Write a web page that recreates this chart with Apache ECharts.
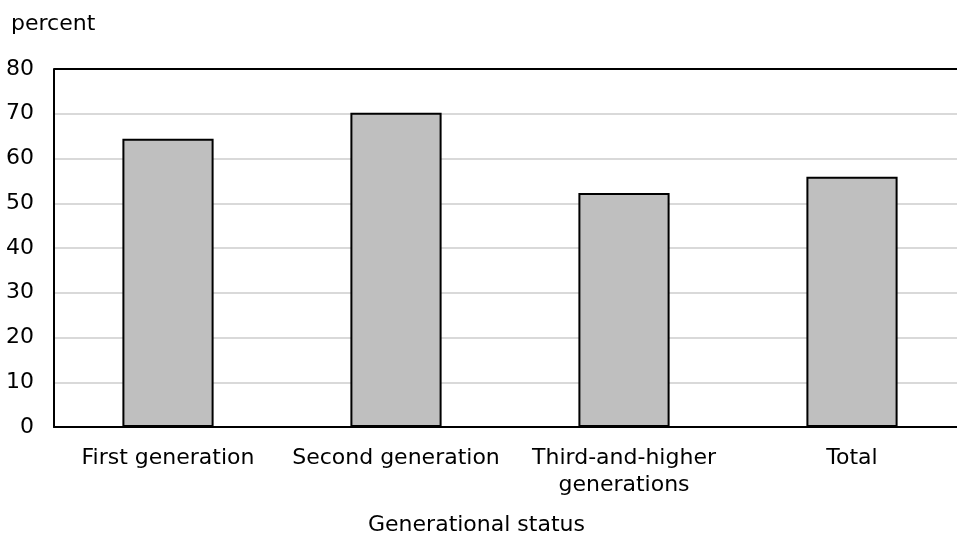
<!DOCTYPE html>
<html>
<head>
<meta charset="utf-8">
<script src="https://cdn.jsdelivr.net/npm/echarts@6/dist/echarts.min.js"></script>
<style>
  html, body { margin: 0; padding: 0; background: #fff; }
  #chart { width: 957px; height: 540px; }
</style>
</head>
<body>
<div id="chart"></div>
<script>
// categories and values
const categories = ["First generation", "Second generation", "Third-and-higher\ngenerations", "Total"];
const shares = [64.4, 70.2, 52.3, 55.9];
const yTicks = [0, 10, 20, 30, 40, 50, 60, 70, 80];

const font = "DejaVu Sans";
let myChart = echarts.init(document.getElementById("chart"));

myChart.setOption({
  animation: false,
  textStyle: { fontFamily: font },
  grid: {
    left: 54,
    width: 912,
    top: 69,
    bottom: 113,
    outerBoundsMode: "none",
    containLabel: false,
  },
  graphic: [
    {
      type: "text",
      left: 11,
      top: 13,
      style: { text: "percent", font: "22px " + font, fill: "#000" },
    },
  ],
  xAxis: {
    type: "category",
    data: categories,
    name: "Generational status",
    nameLocation: "middle",
    nameGap: 87,
    nameTextStyle: { color: "#000", fontSize: 22, fontFamily: font, padding: [0, 67, 0, 0] },
    axisLine: { lineStyle: { color: "#000", width: 2 } },
    axisTick: { show: false },
    axisLabel: { color: "#000", fontSize: 22, fontFamily: font, margin: 18, lineHeight: 27, interval: 0 },
  },
  yAxis: {
    type: "value",
    min: yTicks[0],
    max: yTicks[yTicks.length - 1],
    interval: 10,
    axisLine: { show: true, lineStyle: { color: "#000", width: 2 } },
    axisTick: { show: false },
    axisLabel: { color: "#000", fontSize: 22, fontFamily: font, margin: 20 },
    splitLine: { lineStyle: { color: "#d9d9d9", width: 2 } },
  },
  series: [
    {
      type: "bar",
      data: shares,
      barWidth: "40%",
      itemStyle: { color: "#bfbfbf", borderColor: "#000", borderWidth: 2 },
    },
    {
      // top border of the plot frame
      type: "line",
      data: [],
      markLine: {
        silent: true,
        symbol: "none",
        label: { show: false },
        lineStyle: { color: "#000", width: 2, type: "solid" },
        data: [{ yAxis: yTicks[yTicks.length - 1] }],
      },
    },
  ],
});
window.addEventListener("resize", function () {
  myChart.resize();
});
</script>
</body>
</html>
